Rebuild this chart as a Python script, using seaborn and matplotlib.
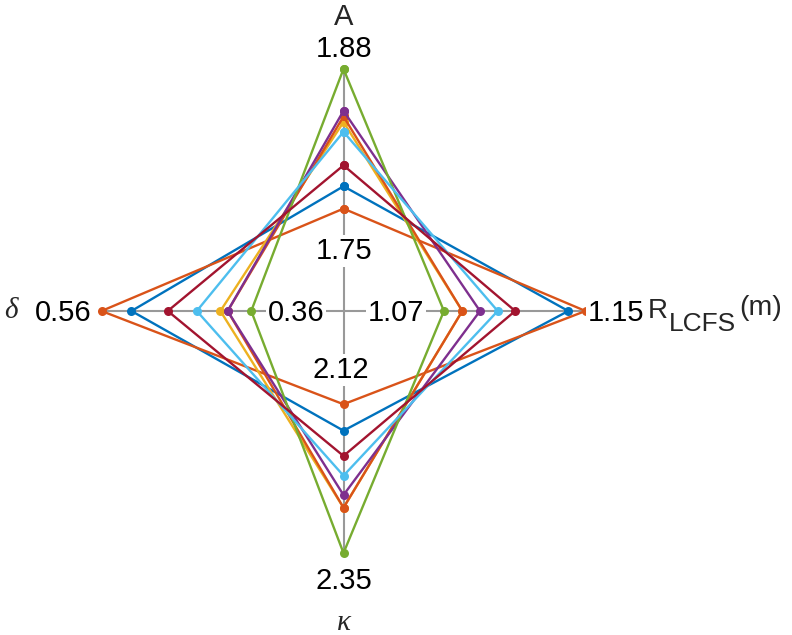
import numpy as np
import pandas as pd
import matplotlib
matplotlib.use("Agg")
import matplotlib.pyplot as plt
import seaborn as sns

# ---- data -------------------------------------------------------------
axis_names = ["A", "R_LCFS", "kappa", "delta"]
axis_angles_deg = [90, 0, 270, 180]
axis_min = [1.75, 1.07, 2.12, 0.36]
axis_max = [1.88, 1.15, 2.35, 0.56]

series = ["s1", "s2", "s3", "s4", "s5", "s6", "s7", "s8"]
A_vals = [1.796, 1.780, 1.842, 1.846, 1.850, 1.880, 1.835, 1.811]
R_vals = [1.1424, 1.150, 1.0957, 1.0957, 1.1035, 1.0876, 1.1113, 1.119]
kappa_vals = [2.195, 2.1615, 2.2926, 2.2926, 2.2765, 2.350, 2.252, 2.227]
delta_vals = [0.527, 0.560, 0.429, 0.421, 0.421, 0.395, 0.455, 0.487]
colors = ["#0072BD", "#D95319", "#EDB120", "#D95319",
          "#7E2F8E", "#77AC30", "#4DBEEE", "#A2142F"]

# ---- build long table (radar transform) -------------------------------
offset = 0.25
values = [A_vals, R_vals, kappa_vals, delta_vals]
rows = []
for si, s in enumerate(series):
    for k in list(range(4)) + [0]:
        v = values[k][si]
        f = (v - axis_min[k]) / (axis_max[k] - axis_min[k])
        r = offset + (1 - offset) * f
        th = np.deg2rad(axis_angles_deg[k])
        rows.append({"series": s, "x": r * np.cos(th), "y": r * np.sin(th)})
df = pd.DataFrame(rows)

# ---- figure -----------------------------------------------------------
sns.set_theme(style="white")
plt.rcParams["font.family"] = ["Liberation Sans", "DejaVu Sans"]

W, H = 792, 635
cx, cy, R = 343.5, 311.0, 242.0
fig = plt.figure(figsize=(W / 100, H / 100), dpi=100)
ax = fig.add_axes([0, 0, 1, 1])
ax.set_xlim(-cx / R, (W - cx) / R)
ax.set_ylim((cy - H) / R, cy / R)
ax.axis("off")


def P(px, py):
    return (px - cx) / R, (cy - py) / R


# axis spokes
for a in axis_angles_deg:
    th = np.deg2rad(a)
    ax.plot([0, np.cos(th)], [0, np.sin(th)], color="#999999", lw=1.5, zorder=1)

sns.lineplot(data=df, x="x", y="y", hue="series", hue_order=series,
             palette=colors, sort=False, estimator=None, marker="o",
             markersize=6.5, markeredgewidth=0, linewidth=1.7, legend=False,
             ax=ax, zorder=2)

fs = 21
box = dict(facecolor="white", edgecolor="none", pad=1.5)
lab = dict(fontsize=fs, color="black", zorder=5, bbox=box)

fmt = lambda v: f"{v:.2f}"
# inner (min) labels
ax.text(*P(344, 259), fmt(axis_min[0]), ha="center", va="baseline", **lab)
ax.text(*P(396, 321), fmt(axis_min[1]), ha="center", va="baseline", **lab)
ax.text(*P(341, 378), fmt(axis_min[2]), ha="center", va="baseline", **lab)
ax.text(*P(296, 321), fmt(axis_min[3]), ha="center", va="baseline", **lab)
# outer (max) labels
ax.text(*P(344, 57), fmt(axis_max[0]), ha="center", va="baseline", **lab)
ax.text(*P(588, 321), fmt(axis_max[1]), ha="left", va="baseline", **lab)
ax.text(*P(344, 589), fmt(axis_max[2]), ha="center", va="baseline", **lab)
ax.text(*P(91, 321), fmt(axis_max[3]), ha="right", va="baseline", **lab)

# axis titles
ax.text(*P(344, 25), "A", ha="center", va="baseline", fontsize=fs, zorder=5)
ax.text(*P(344, 630), "κ", ha="center", va="baseline", fontsize=fs,
        family=["Liberation Serif", "DejaVu Serif"], style="italic", zorder=5)
ax.text(*P(11, 318), "δ", ha="center", va="baseline", fontsize=fs,
        family=["Liberation Serif", "DejaVu Serif"], style="italic", zorder=5)
ax.text(*P(648, 318), "R", ha="left", va="baseline", fontsize=20, zorder=5)
ax.text(*P(669, 331), "LCFS", ha="left", va="baseline", fontsize=19, zorder=5)
ax.text(*P(739, 315), "(m)", ha="left", va="baseline", fontsize=20.5, zorder=5)

fig.savefig("out.png", dpi=100)
